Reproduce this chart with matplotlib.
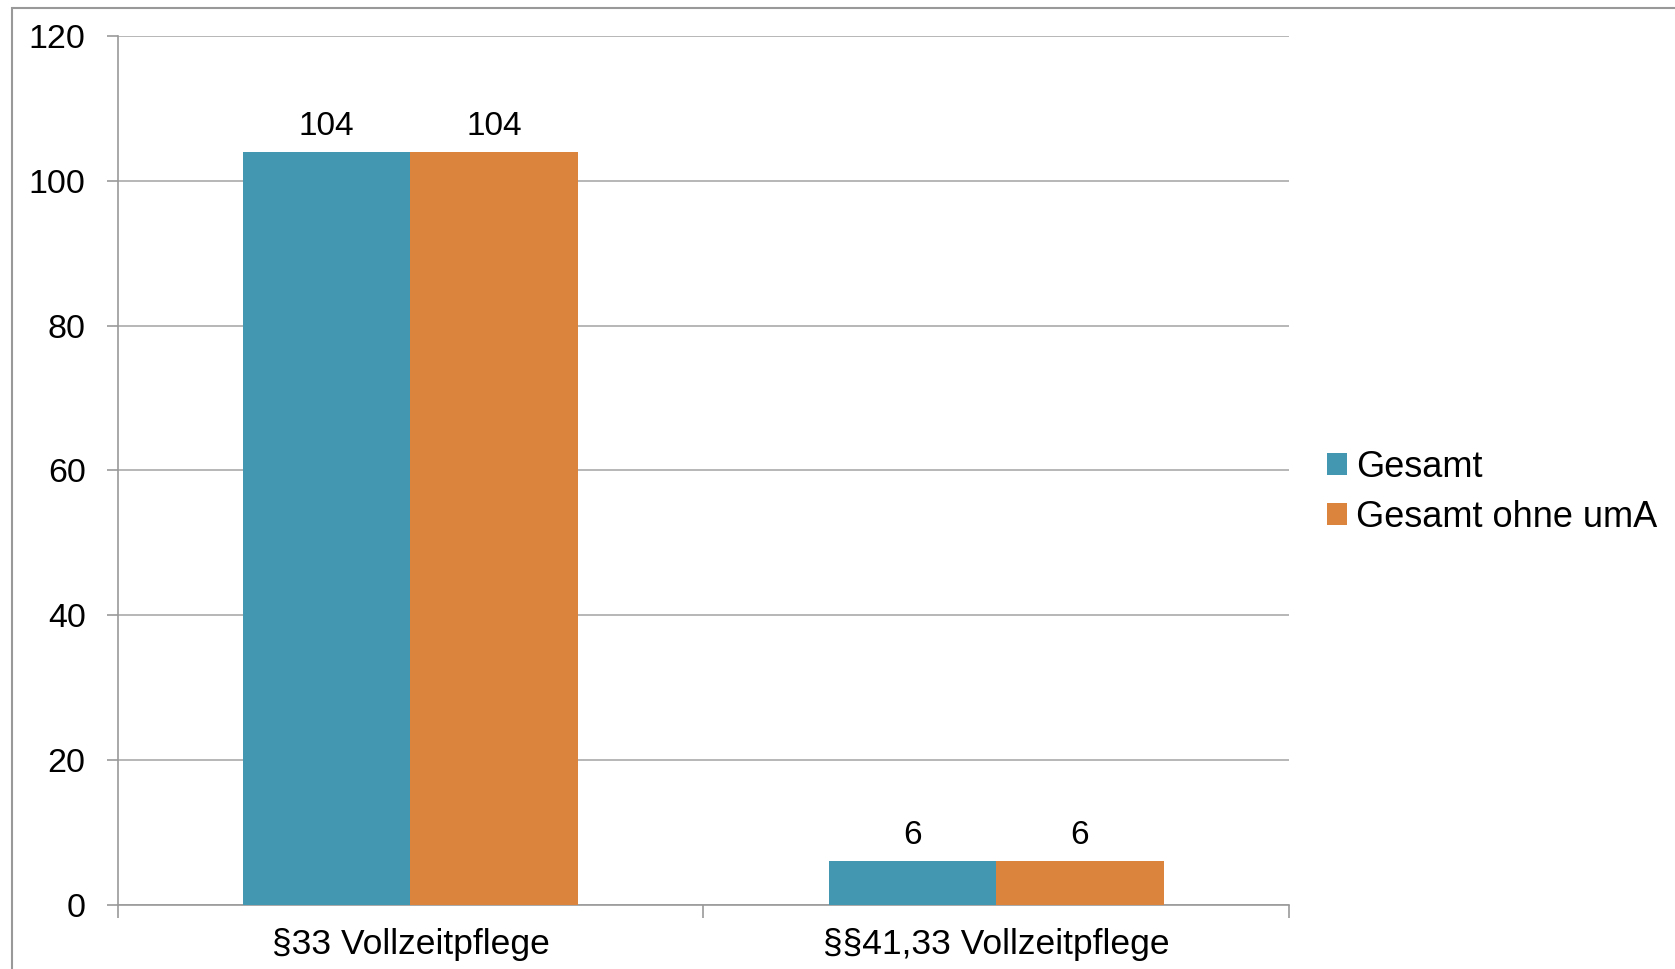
import matplotlib
matplotlib.use('Agg')
import matplotlib.pyplot as plt
from matplotlib.patches import Rectangle
import numpy as np

plt.rcParams['font.family'] = ['Liberation Sans', 'DejaVu Sans']

categories = ['§33 Vollzeitpflege', '§§41,33 Vollzeitpflege']
gesamt = [104, 6]
ohne_uma = [104, 6]
series_names = ['Gesamt', 'Gesamt ohne umA']
colors = ['#4397b0', '#db843d']

fig = plt.figure(figsize=(16.75, 9.69), dpi=100)
ax = fig.add_axes([0.0702, 0.0665, 0.6994, 0.896])

x = np.arange(len(categories))
w = 0.286
b1 = ax.bar(x - w / 2, gesamt, w, color=colors[0], label=series_names[0], zorder=3)
b2 = ax.bar(x + w / 2, ohne_uma, w, color=colors[1], label=series_names[1], zorder=3)
ax.bar_label(b1, padding=7, fontsize=24)
ax.bar_label(b2, padding=7, fontsize=24)

ax.set_xlim(-0.5, len(categories) - 0.5)
ax.set_ylim(0, 120)
ax.set_yticks(range(0, 121, 20))
ax.set_xticks(x)
ax.set_xticklabels(categories)
ax.set_xticks(np.arange(-0.5, len(categories), 1), minor=True)
ax.tick_params(axis='x', which='major', length=0, pad=17, labelsize=25.5)
ax.tick_params(axis='x', which='minor', length=9, color='#999999', width=1.2)
ax.tick_params(axis='y', length=8, color='#999999', width=1.2, pad=15, labelsize=24.5)

ax.grid(axis='y', color='#aaaaaa', linewidth=1.2, zorder=0)
for s in ['top', 'right']:
    ax.spines[s].set_visible(False)
for s in ['left', 'bottom']:
    ax.spines[s].set_color('#999999')
    ax.spines[s].set_linewidth(1.2)

fig.legend(loc='center left', bbox_to_anchor=(0.7815, 0.492), frameon=False,
           fontsize=26, handlelength=0.55, handleheight=0.55,
           handletextpad=0.25, labelspacing=0.42, borderpad=0)

fig.patches.append(Rectangle((0.0072, -0.1), 1.2, 0.1 + 0.9917, transform=fig.transFigure,
                             fill=False, edgecolor='#999999', linewidth=1.5))

fig.savefig('out.png', dpi=100)
